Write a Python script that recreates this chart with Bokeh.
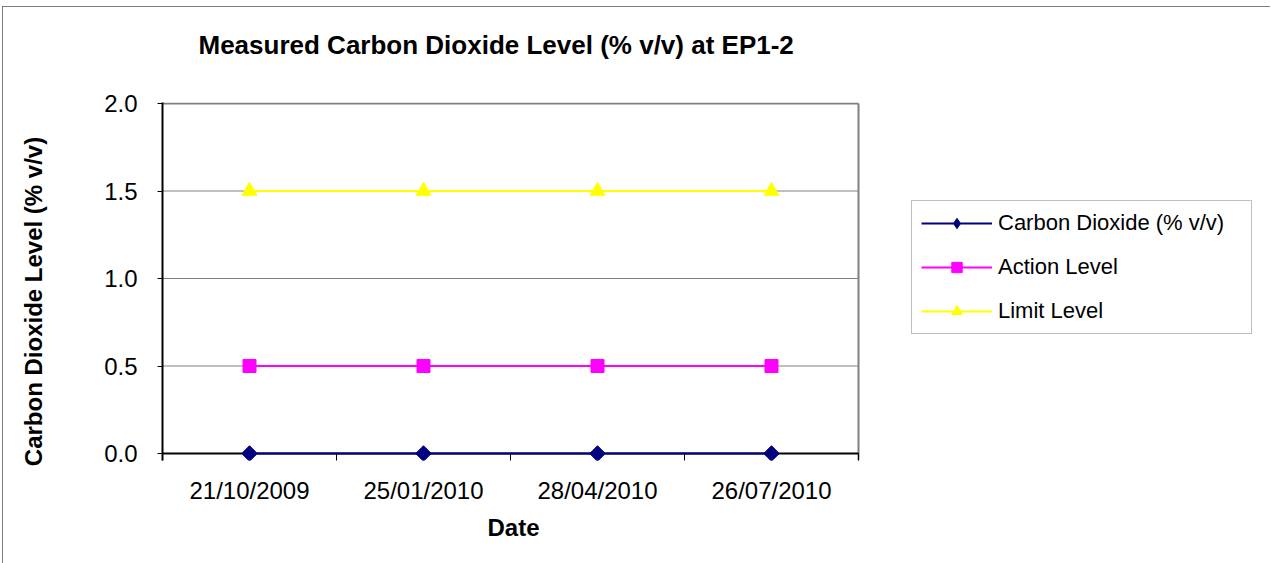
import math
from bokeh.plotting import figure
from bokeh.models import Range1d, FixedTicker, Legend, LegendItem, Title
from bokeh.embed import file_html
from bokeh.resources import INLINE

# ---- data ----
dates = ["21/10/2009", "25/01/2010", "28/04/2010", "26/07/2010"]
co2 = [0.0, 0.0, 0.0, 0.0]
action_level = [0.5, 0.5, 0.5, 0.5]
limit_level = [1.5, 1.5, 1.5, 1.5]
y_ticks = [0.0, 0.5, 1.0, 1.5, 2.0]
y_tick_labels = ["0.0", "0.5", "1.0", "1.5", "2.0"]

title_text = "Measured Carbon Dioxide Level (% v/v) at EP1-2"
x_title = "Date"
y_title = "Carbon Dioxide Level (% v/v)"
series_names = ["Carbon Dioxide (% v/v)", "Action Level", "Limit Level"]

FONT = "Liberation Sans"
GRAY = "#808080"

# ---- layout (pixels) ----
W, H = 1268, 557
MB_L, MB_R, MB_T, MB_B = 160, 8, 96, 103
frame_w = W - MB_L - MB_R
frame_h = H - MB_T - MB_B
cat_px = 174                       # width of one date slot
y_px = 175                         # pixels per unit of y

n = len(dates)
x = [i + 0.5 for i in range(n)]
x_end = n
y_start, y_end = y_ticks[0], y_ticks[-1]
y_view_start = y_end - (frame_h - 1) / y_px
y_view_end = y_end + 1 / y_px

p = figure(width=W, height=H, output_backend="svg", toolbar_location=None,
           x_range=Range1d(0, frame_w / cat_px), y_range=Range1d(y_view_start, y_view_end),
           min_border_left=MB_L, min_border_right=MB_R,
           min_border_top=MB_T, min_border_bottom=MB_B)
p.styles = {"margin-left": "2px", "margin-top": "6px",
            "outline": "1px solid #555", "outline-offset": "-1px"}
p.background_fill_color = "white"
p.border_fill_color = "white"
p.outline_line_color = None
p.grid.visible = False

# title (second blank line lifts the first line away from the frame)
p.title.text = title_text + "\n\u00a0"
p.title.text_font = FONT
p.title.text_font_size = "26px"
p.title.text_font_style = "bold"
p.title.text_color = "black"
p.title.align = "left"
p.title.offset = 36
p.title.standoff = 26

# x axis
xa = p.xaxis[0]
xa.ticker = FixedTicker(ticks=x, minor_ticks=list(range(n + 1)))
xa.major_label_overrides = {xi: d for xi, d in zip(x, dates)}
xa.major_tick_out = 0
xa.major_tick_in = 0
xa.minor_tick_out = 0
xa.minor_tick_in = 7
xa.minor_tick_line_color = "black"
xa.axis_line_color = None
xa.major_label_text_font = FONT
xa.major_label_text_font_size = "24px"
xa.major_label_text_color = "black"
xa.major_label_standoff = 16

p.add_layout(Title(text=x_title, align="left", offset=325, standoff=10,
                   text_font=FONT, text_font_size="24px", text_font_style="bold",
                   text_color="black"), "below")

# y axis
ya = p.yaxis[0]
ya.ticker = FixedTicker(ticks=y_ticks, minor_ticks=[])
ya.major_label_overrides = {t: l for t, l in zip(y_ticks, y_tick_labels)}
ya.major_tick_out = 5
ya.major_tick_in = 0
ya.major_tick_line_color = "black"
ya.minor_tick_out = 0
ya.minor_tick_in = 0
ya.axis_line_color = "black"
ya.axis_line_width = 2
ya.major_label_text_font = FONT
ya.major_label_text_font_size = "24px"
ya.major_label_text_color = "black"
ya.major_label_standoff = 20
ya.axis_label = y_title + "\u00a0" * 6
ya.axis_label_text_font = FONT
ya.axis_label_text_font_size = "24px"
ya.axis_label_text_font_style = "bold"
ya.axis_label_text_color = "black"
ya.axis_label_standoff = 54

# plot-area grid lines and edges (only over the date slots)
grid_y = y_ticks[1:-1]
p.segment(x0=[0] * len(grid_y), y0=grid_y, x1=[x_end] * len(grid_y), y1=grid_y,
          line_color=GRAY, line_width=1)
p.segment(x0=[0], y0=[y_end], x1=[x_end], y1=[y_end], line_color=GRAY, line_width=2)
p.segment(x0=[x_end], y0=[y_view_start], x1=[x_end], y1=[y_end], line_color=GRAY, line_width=2)
p.segment(x0=[0], y0=[y_start], x1=[x_end], y1=[y_start], line_color="black", line_width=2)

# series
colors = ["#000080", "#FF00FF", "#FFFF00"]
r1 = p.line(x, co2, line_color=colors[0], line_width=2)
d1 = p.scatter(x, co2, marker="diamond", size=14,
               fill_color=colors[0], line_color=colors[0])
m1 = p.scatter(x, co2, marker="square", angle=math.pi / 4, size=11,
               fill_color=colors[0], line_color=colors[0])
r2 = p.line(x, action_level, line_color=colors[1], line_width=2)
m2 = p.scatter(x, action_level, marker="square", size=13,
               fill_color=colors[1], line_color=colors[1])
r3 = p.line(x, limit_level, line_color=colors[2], line_width=2)
m3 = p.scatter(x, limit_level, marker="triangle", size=15,
               fill_color=colors[2], line_color=colors[2])

legend = Legend(items=[LegendItem(label=series_names[0], renderers=[r1, d1]),
                       LegendItem(label=series_names[1], renderers=[r2, m2]),
                       LegendItem(label=series_names[2], renderers=[r3, m3])],
                location=(749, 126), padding=9, spacing=18, margin=0,
                glyph_width=71, glyph_height=26, label_height=26, label_width=244,
                label_standoff=6, label_text_font=FONT, label_text_font_size="22px",
                label_text_color="black", border_line_color=GRAY, border_line_width=1,
                background_fill_color="white", background_fill_alpha=1.0)
p.add_layout(legend)

open("out.html", "w").write(file_html(p, INLINE))
